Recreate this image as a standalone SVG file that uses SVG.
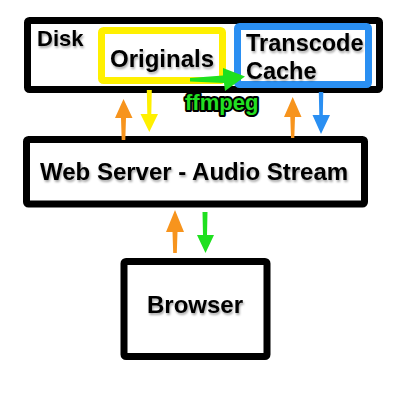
<svg xmlns="http://www.w3.org/2000/svg" width="400" height="400" viewBox="0 0 400 400">
<defs>
<filter id="sh" x="-10%" y="-20%" width="120%" height="150%">
<feDropShadow dx="1" dy="2" stdDeviation="1.2" flood-color="#000" flood-opacity="0.35"/>
</filter>
</defs>
<style>
.box{fill:none;stroke:#000;stroke-width:7;stroke-linejoin:round}
.lbl{font-family:"Liberation Sans",Arial,sans-serif;font-weight:bold;font-size:24px;fill:#000;filter:url(#sh)}
.ff{font-family:"Liberation Sans",Arial,sans-serif;font-weight:bold;font-size:22px;fill:#22e022;stroke:#000;stroke-width:4;paint-order:stroke;stroke-linejoin:round}
.or{fill:#f7941d}.ye{fill:#fff000}.bl{fill:#2a8ff2}.gr{fill:#1fe01f}
</style>
<rect width="400" height="400" fill="#fff"/>
<g id="disk">
<rect class="box" x="27.5" y="20.5" width="352" height="69" rx="2"/>
<text class="lbl" x="37" y="46" style="font-size:22px">Disk</text>
</g>
<g id="originals">
<rect x="101.5" y="30.5" width="121" height="50" fill="none" stroke="#fff000" stroke-width="7" rx="2"/>
<text class="lbl" x="110" y="67">Originals</text>
</g>
<g id="transcode">
<rect x="237.5" y="26.5" width="131" height="58" fill="none" stroke="#2a8ff2" stroke-width="7" rx="2"/>
<text class="lbl" x="246" y="51" style="font-size:23.5px">Transcode</text>
<text class="lbl" x="246" y="79" style="font-size:23.5px">Cache</text>
</g>
<g id="server">
<rect class="box" x="26.5" y="139.5" width="338" height="64.5" rx="2"/>
<text class="lbl" x="40" y="180">Web Server - Audio Stream</text>
</g>
<g id="browser">
<rect class="box" x="124" y="261.5" width="143" height="95" rx="2"/>
<text class="lbl" x="147" y="313">Browser</text>
</g>
<g id="connectors">
<polygon class="gr" points="190,78 223,75.5 223,68 245,76.5 225,91 224,83 190,81.5"/>
<text class="ff" x="185" y="110">ffmpeg</text>
<polygon class="or" points="123.5,99 132.5,118 126,118 125.3,140 121.7,140 121,118 115,118"/>
<polygon class="ye" points="146.8,90 151.8,90 151.3,114 158,114 149.3,132 140.5,114 147.3,114"/>
<polygon class="or" points="292.7,97 301.5,117 295,117 294.3,138 291,138 290.3,117 284,117"/>
<polygon class="bl" points="318.8,92 323.3,92 322.8,115 330,115 321,134 312.5,115 319.3,115"/>
<polygon class="or" points="175,210 184,232 177.5,232 176.8,253 173.2,253 172.5,232 166,232"/>
<polygon class="gr" points="202.5,212 207.5,212 207,235 214,235 205.5,253 197,235 203,235"/>
</g>
</svg>
